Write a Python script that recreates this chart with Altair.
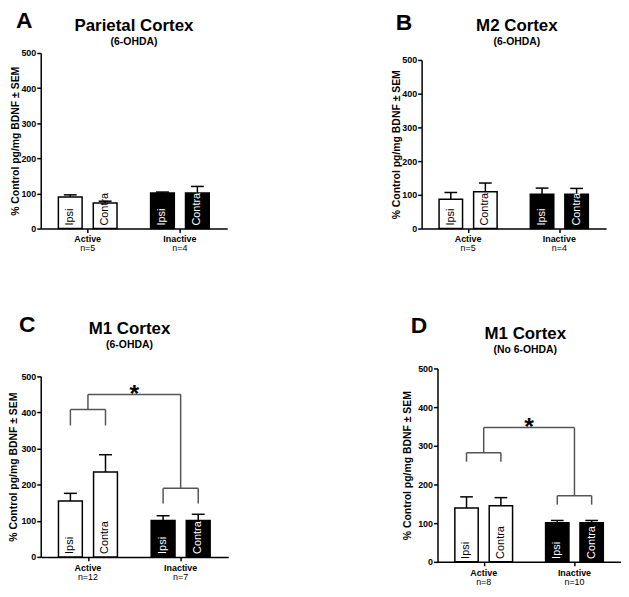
import altair as alt
import pandas as pd

groups = ["Active", "Inactive"]
sides = ["Ipsi", "Contra"]
y_ticks = [0, 100, 200, 300, 400, 500]

letters = ["A", "B", "C", "D"]
titles = ["Parietal Cortex", "M2 Cortex", "M1 Cortex", "M1 Cortex"]
subtitles = ["(6-OHDA)", "(6-OHDA)", "(6-OHDA)", "(No 6-OHDA)"]

# order: Active-Ipsi, Active-Contra, Inactive-Ipsi, Inactive-Contra
means_A = [90, 73, 101, 101]
sems_A = [6, 5, 3, 19]
n_A = [5, 4]

means_B = [87, 109, 102, 102]
sems_B = [20, 26, 18, 17]
n_B = [5, 4]

means_C = [155, 235, 101, 101]
sems_C = [21, 48, 13, 17]
n_C = [12, 7]

means_D = [139, 145, 101, 101]
sems_D = [29, 21, 6, 6]
n_D = [8, 10]

# brackets: [active level, active leg end, inactive level, inactive leg end, top level, star]
brackets_C = [408, 364, 190, 148, 450, 467]
brackets_D = [282, 259, 171, 148, 347, 365]

# layout constants (not data)
X_MAX = 5.5
FIRST = 0.87
SIDE_STEP = 1.03
GROUP_STEP = 2.72
BAR_HALF = 0.35
CAP_HALF = 0.19
FONT = "Liberation Sans, Arial, Helvetica, sans-serif"
NARROW = "Liberation Sans Narrow, Arial Narrow, Liberation Sans, sans-serif"
BRACKET_COLOR = "#555555"


def center(gi, si):
    return FIRST + gi * GROUP_STEP + si * SIDE_STEP


def make_panel(letter, title, subtitle, means, sems, ns, brackets, width, height,
               yrange, head, title_pad):
    # head: (letter_x, letter_y, title_dx, title_y, subtitle_y)
    rows = []
    k = 0
    for gi, g in enumerate(groups):
        for si, s in enumerate(sides):
            c = center(gi, si)
            rows.append({
                "group": g, "side": s, "mean": means[k], "sem": sems[k],
                "top": means[k] + sems[k], "zero": 0, "center": c,
                "left": c - BAR_HALF, "right": c + BAR_HALF,
                "capl": c - CAP_HALF, "capr": c + CAP_HALF,
            })
            k += 1
    df = pd.DataFrame(rows)
    mids = [(center(gi, 0) + center(gi, 1)) / 2 for gi in range(len(groups))]
    gdf = pd.DataFrame({"group": groups, "mid": mids,
                        "ntext": ["n=" + str(n) for n in ns]})

    xs = alt.Scale(domain=[0, X_MAX], nice=False, zero=False)
    if yrange:
        ys = alt.Scale(domain=[0, 500], nice=False, range=yrange)
    else:
        ys = alt.Scale(domain=[0, 500], nice=False)

    x_axis = alt.Axis(values=mids, labels=False, title=None, tickSize=4, ticks=True,
                      grid=False, domainWidth=1.5, tickWidth=1.5, domainColor="black",
                      tickColor="black")
    y_axis = alt.Axis(values=y_ticks, tickCount=6, title="% Control pg/mg BDNF ± SEM",
                      tickSize=4, grid=False, domainWidth=1.5, tickWidth=1.5,
                      domainColor="black", tickColor="black", labelFontSize=9,
                      labelFontWeight="bold", labelColor="black", labelPadding=1,
                      labelOverlap=False, labelFlush=False,
                      titleFontSize=10.5, titleFontWeight="bold", titleColor="black",
                      titlePadding=title_pad, labelFont=FONT, titleFont=FONT)

    def X(f):
        return alt.X(f, scale=xs, axis=x_axis)

    def Y(f):
        return alt.Y(f, scale=ys, axis=y_axis)

    base = alt.Chart(df)
    bars = base.mark_bar(stroke="black", strokeWidth=1.5).encode(
        x=X("left:Q"),
        x2="right:Q",
        y=Y("mean:Q"),
        y2="zero:Q",
        fill=alt.Fill("group:N", scale=alt.Scale(domain=groups, range=["white", "black"]), legend=None),
    )
    err = base.mark_rule(color="black", strokeWidth=1.5).encode(
        x=X("center:Q"),
        y=Y("mean:Q"),
        y2="top:Q",
    )
    caps = base.mark_rule(color="black", strokeWidth=1.5).encode(
        x=X("capl:Q"),
        x2="capr:Q",
        y=Y("top:Q"),
    )
    inner = base.mark_text(angle=270, align="left", baseline="middle", dx=3,
                           fontSize=11, font=NARROW).encode(
        x=X("center:Q"),
        y=Y("zero:Q"),
        text="side:N",
        color=alt.Color("group:N", scale=alt.Scale(domain=groups, range=["black", "white"]), legend=None),
    )
    glabel = alt.Chart(gdf).mark_text(fontSize=9, fontWeight="bold", font=FONT,
                                      baseline="alphabetic", color="black").encode(
        x=X("mid:Q"),
        y=alt.value(height + 14),
        text="group:N",
    )
    nlabel = alt.Chart(gdf).mark_text(fontSize=9, font=FONT, baseline="alphabetic",
                                      color="black").encode(
        x=X("mid:Q"),
        y=alt.value(height + 23),
        text="ntext:N",
    )
    hdf = pd.DataFrame({"letter": [letter], "title": [title], "subtitle": [subtitle]})
    hbase = alt.Chart(hdf)
    lt = hbase.mark_text(fontSize=23, fontWeight="bold", font=FONT, align="left",
                         baseline="alphabetic", color="black").encode(
        x=alt.value(head[0]), y=alt.value(head[1]), text="letter:N")
    tt = hbase.mark_text(fontSize=17, fontWeight="bold", font=FONT, align="center",
                         baseline="alphabetic", color="black").encode(
        x=alt.value(width / 2 + head[2]), y=alt.value(head[3]), text="title:N")
    st = hbase.mark_text(fontSize=10.5, fontWeight="bold", font=FONT, align="center",
                         baseline="alphabetic", color="black").encode(
        x=alt.value(width / 2 + head[2]), y=alt.value(head[4]), text="subtitle:N")

    layers = [bars, err, caps, inner, glabel, nlabel, lt, tt, st]

    if brackets:
        a_lvl, a_leg, i_lvl, i_leg, top_lvl, star_lvl = brackets
        c00, c01, c10, c11 = center(0, 0), center(0, 1), center(1, 0), center(1, 1)
        segs = pd.DataFrame([
            {"x": c00, "x2": c01, "y": a_lvl, "y2": a_lvl},
            {"x": c00, "x2": c00, "y": a_leg, "y2": a_lvl},
            {"x": c01, "x2": c01, "y": a_leg, "y2": a_lvl},
            {"x": c10, "x2": c11, "y": i_lvl, "y2": i_lvl},
            {"x": c10, "x2": c10, "y": i_leg, "y2": i_lvl},
            {"x": c11, "x2": c11, "y": i_leg, "y2": i_lvl},
            {"x": mids[0], "x2": mids[0], "y": a_lvl, "y2": top_lvl},
            {"x": mids[1], "x2": mids[1], "y": i_lvl, "y2": top_lvl},
            {"x": mids[0], "x2": mids[1], "y": top_lvl, "y2": top_lvl},
        ])
        br = alt.Chart(segs).mark_rule(color=BRACKET_COLOR, strokeWidth=1.5).encode(
            x=X("x:Q"), x2="x2:Q",
            y=Y("y:Q"), y2="y2:Q")
        star = alt.Chart(pd.DataFrame({"x": [(mids[0] + mids[1]) / 2], "y": [star_lvl],
                                       "t": ["*"]})).mark_text(
            fontSize=25, fontWeight="bold", font=FONT, baseline="middle", dy=6,
            color="black").encode(
            x=X("x:Q"),
            y=Y("y:Q"), text="t:N")
        layers += [br, star]

    return alt.layer(*layers).properties(width=width, height=height)


pA = make_panel(letters[0], titles[0], subtitles[0], means_A, sems_A, n_A, None,
                188, 177, None, (-25, -25, 0, -22, -8), 0)
pB = make_panel(letters[1], titles[1], subtitles[1], means_B, sems_B, n_B, None,
                186, 177, [177, 7], (-26, -23, 3, -22, -8), 0)
pC = make_panel(letters[2], titles[2], subtitles[2], means_C, sems_C, n_C, brackets_C,
                189, 190, [190, 8], (-22, -37, -5, -35, -21), 2)
pD = make_panel(letters[3], titles[3], subtitles[3], means_D, sems_D, n_D, brackets_D,
                185, 195, None, (-27, -36, -4, -30, -16), 5)

row1 = alt.hconcat(pA, pB, spacing=165)
row2 = alt.hconcat(pC, pD, spacing=175)
chart = alt.vconcat(row1, row2, spacing=61).properties(
    padding={"left": 0, "top": 0, "right": 0, "bottom": 0},
    background="white",
).configure_view(stroke=None)

chart.save("out.html", embed_options={"renderer": "svg", "actions": False})
